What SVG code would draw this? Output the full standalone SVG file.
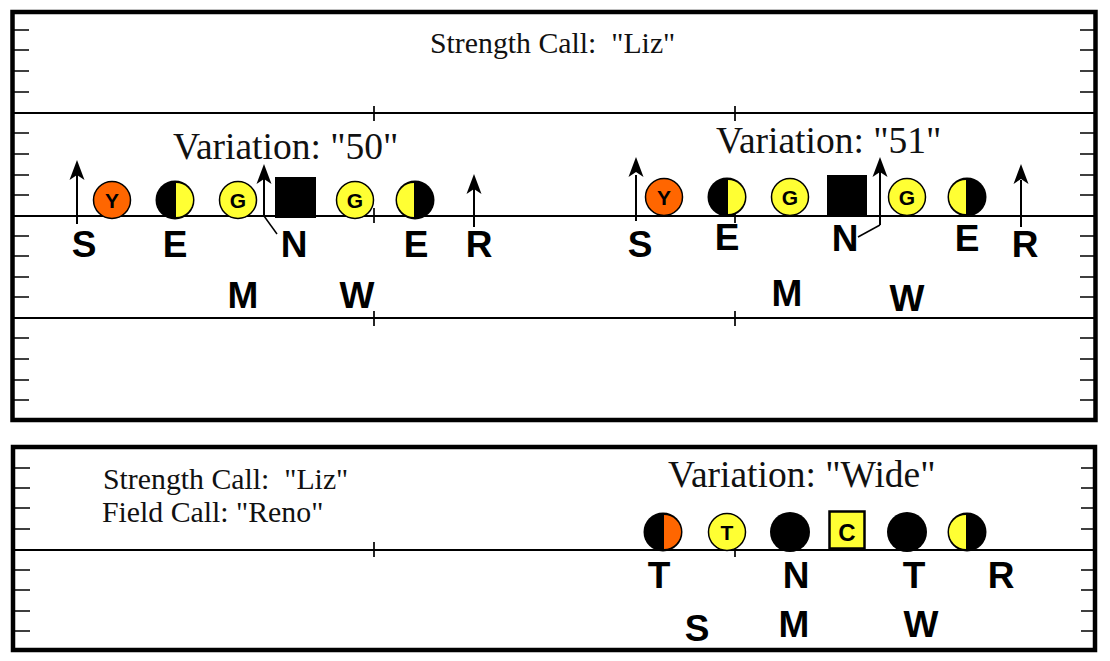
<svg xmlns="http://www.w3.org/2000/svg" width="1110" height="661" viewBox="0 0 1110 661">
<defs>
<path id="head" d="M0 0L7.500 20L0 15L-7.500 20Z" fill="#000"/>
</defs>
<style>
.bg{fill:#fff}
.frame{fill:none;stroke:#000;stroke-width:4.5}
.l{stroke:#000;stroke-width:2;fill:none}
.t{stroke:#000;stroke-width:1.7;fill:none}
.serif{font-family:"Liberation Serif",serif;fill:#111;white-space:pre}
.big{font-size:37.5px}
.mid{font-size:29.8px}
.lab{font-family:"Liberation Sans",sans-serif;font-weight:700;font-size:37px;text-anchor:middle;fill:#000}
.in{font-family:"Liberation Sans",sans-serif;font-weight:700;font-size:21px;text-anchor:middle;fill:#000}
.k{fill:#000}.y{fill:#ffff33}.o{fill:#ff6600}
.edge{stroke:#000;stroke-width:1.5}
</style>
<rect class="bg" width="1110" height="661"/>
<g id="field-top">
<rect class="frame" x="12.5" y="12" width="1083" height="408"/>
<path class="l" d="M14 113H1094M14 216H1094M14 318H1094"/>
<path class="t" d="M374 106V121M735 106V121M374 208V223M735 208V223M374 311V326M735 311V326"/>
<path class="t" d="M14 30H29M14 50H29M14 71H29M14 92H29M14 133H29M14 154H29M14 175H29M14 195H29M14 236H29M14 256H29M14 277H29M14 297H29M14 338H29M14 359H29M14 380H29M14 400H29"/>
<path class="t" d="M1080 30H1094M1080 50H1094M1080 71H1094M1080 92H1094M1080 133H1094M1080 154H1094M1080 175H1094M1080 195H1094M1080 236H1094M1080 256H1094M1080 277H1094M1080 297H1094M1080 338H1094M1080 359H1094M1080 380H1094M1080 400H1094"/>
</g>
<g id="field-bottom">
<rect class="frame" x="13" y="447" width="1082" height="203"/>
<path class="l" d="M14 550H1094"/>
<path class="t" d="M374 542V557M735 550V557"/>
<path class="t" d="M14 468H30M14 488H30M14 508H30M14 529H30M14 570H30M14 590H30M14 611H30M14 631H30"/>
<path class="t" d="M1081 468H1094M1081 488H1094M1081 508H1094M1081 529H1094M1081 570H1094M1081 590H1094M1081 611H1094M1081 631H1094"/>
</g>
<g id="captions">
<text class="serif mid" x="430" y="53">Strength Call:  "Liz"</text>
<text class="serif big" x="173" y="159">Variation: "50"</text>
<text class="serif big" x="716" y="153">Variation: "51"</text>
<text class="serif mid" x="103" y="489">Strength Call:  "Liz"</text>
<text class="serif mid" x="102" y="522">Field Call: "Reno"</text>
<text class="serif big" x="668" y="487">Variation: "Wide"</text>
</g>
<g id="connectors">
<path class="l" d="M77 224V175"/><use href="#head" x="77" y="160"/>
<path class="l" d="M264 216V178"/><use href="#head" x="264" y="164"/>
<path class="edge" fill="none" d="M264 216L277 234"/>
<path class="l" d="M474 227V188"/><use href="#head" x="474" y="174"/>
<path class="l" d="M636 221V175"/><use href="#head" x="636" y="157"/>
<path class="l" d="M880 225V172"/><use href="#head" x="880" y="157"/>
<path class="edge" fill="none" d="M880 225L858 237"/>
<path class="l" d="M1021 227V180"/><use href="#head" x="1021" y="164"/>
</g>
<g id="Y50"><circle cx="112" cy="200" r="18.5" class="o" stroke="#000" stroke-width="1.5"/><text class="in" x="112" y="208">Y</text></g>
<g id="E50L"><circle cx="175" cy="200" r="19.5" class="k"/><path class="y" d="M176 183A17 17 0 0 1 176 217Z"/></g>
<g id="G50L"><circle cx="238" cy="200" r="18.5" class="y" stroke="#000" stroke-width="1.5"/><text class="in" x="238" y="208">G</text></g>
<g id="N50"><rect class="k" x="275" y="177" width="41" height="41"/></g>
<g id="G50R"><circle cx="355" cy="200" r="18.5" class="y" stroke="#000" stroke-width="1.5"/><text class="in" x="355" y="208">G</text></g>
<g id="E50R"><circle cx="415" cy="200" r="19.5" class="k"/><path class="y" d="M414 183A17 17 0 0 0 414 217Z"/></g>
<g id="Y51"><circle cx="664" cy="197" r="18.5" class="o" stroke="#000" stroke-width="1.5"/><text class="in" x="664" y="205">Y</text></g>
<g id="E51L"><circle cx="727" cy="197" r="19.5" class="k"/><path class="y" d="M728 180A17 17 0 0 1 728 214Z"/></g>
<g id="G51L"><circle cx="790" cy="197" r="18.5" class="y" stroke="#000" stroke-width="1.5"/><text class="in" x="790" y="205">G</text></g>
<g id="N51"><rect class="k" x="827" y="175" width="40" height="41"/></g>
<g id="G51R"><circle cx="907" cy="197" r="18.5" class="y" stroke="#000" stroke-width="1.5"/><text class="in" x="907" y="205">G</text></g>
<g id="E51R"><circle cx="967" cy="197" r="19.5" class="k"/><path class="y" d="M966 180A17 17 0 0 0 966 214Z"/></g>
<g id="TW"><circle cx="663" cy="532" r="19.5" class="k"/><path class="o" d="M664 515A17 17 0 0 1 664 549Z"/></g>
<g id="TWY"><circle cx="727" cy="532" r="18.5" class="y" stroke="#000" stroke-width="1.5"/><text class="in" x="727" y="540">T</text></g>
<g id="NW"><circle cx="790" cy="532" r="20" class="k"/></g>
<g id="CW"><rect class="y" x="829.500" y="511.500" width="35" height="37" stroke="#000" stroke-width="2.500"/><text class="in" x="847" y="541" style="font-size:24px">C</text></g>
<g id="TWR"><circle cx="907" cy="532" r="20" class="k"/></g>
<g id="EW"><circle cx="967" cy="532" r="19.500" class="k"/><path class="y" d="M966 515A17 17 0 0 0 966 549Z"/></g>
<g id="labels">
<text class="lab" x="84" y="257">S</text>
<text class="lab" x="175" y="257">E</text>
<text class="lab" x="294" y="257">N</text>
<text class="lab" x="416" y="257">E</text>
<text class="lab" x="479" y="257">R</text>
<text class="lab" x="243" y="308">M</text>
<text class="lab" x="357" y="308">W</text>
<text class="lab" x="640" y="257">S</text>
<text class="lab" x="727" y="250">E</text>
<text class="lab" x="845" y="251">N</text>
<text class="lab" x="967" y="251">E</text>
<text class="lab" x="1025" y="257">R</text>
<text class="lab" x="787" y="306">M</text>
<text class="lab" x="907" y="311">W</text>
<text class="lab" x="659" y="588">T</text>
<text class="lab" x="796" y="588">N</text>
<text class="lab" x="914" y="588">T</text>
<text class="lab" x="1001" y="588">R</text>
<text class="lab" x="697" y="641">S</text>
<text class="lab" x="794" y="637">M</text>
<text class="lab" x="921" y="637">W</text>
</g>
</svg>
